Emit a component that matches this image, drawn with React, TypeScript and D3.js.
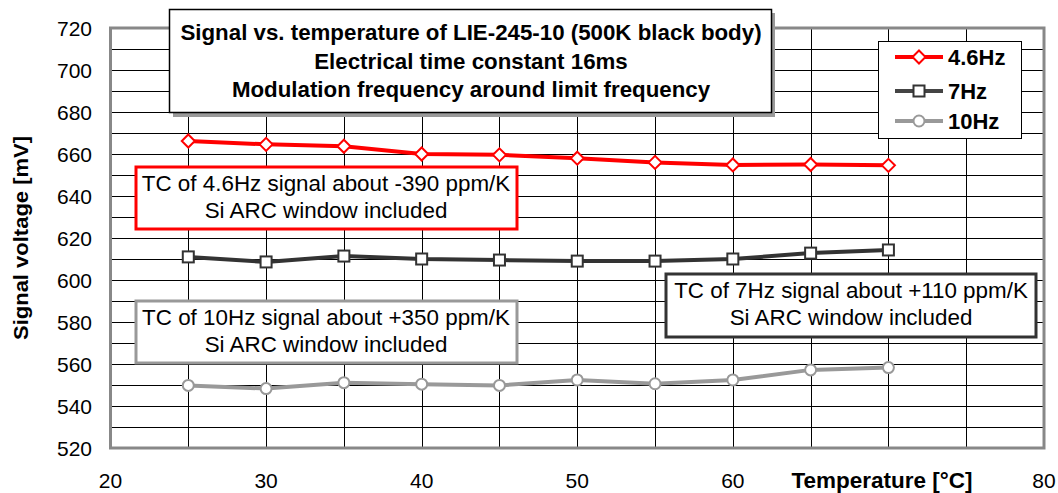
import React from "react";
import * as d3 from "d3";

const temps = [25, 30, 35, 40, 45, 50, 55, 60, 65, 70];
const s46 = [666.2, 664.6, 663.7, 660, 659.6, 658, 656, 654.8, 655, 654.6];
const s7 = [611, 608.6, 611.4, 610, 609.5, 609, 609, 610, 612.8, 614.3];
const s10 = [549.8, 548.3, 551.1, 550.4, 549.8, 552.4, 550.6, 552.4, 557.2, 558.3];
const xTicks = [20, 30, 40, 50, 60, 80];
const yTicks = [520, 540, 560, 580, 600, 620, 640, 660, 680, 700, 720];
const titleLines = [
  "Signal vs. temperature of LIE-245-10 (500K black body)",
  "Electrical time constant 16ms",
  "Modulation frequency around limit frequency",
];
const legendNames = ["4.6Hz", "7Hz", "10Hz"];

const W = 1058, H = 493;
const x = d3.scaleLinear().domain([20, 80]).range([110.5, 1044]);
const y = d3.scaleLinear().domain([520, 720]).range([448, 28]);
const FONT = "'Liberation Sans', Arial, sans-serif";

const line = d3.line<number>().x((_, i) => x(temps[i])).y((d) => y(d));

function Diamond({ cx, cy }: { cx: number; cy: number }) {
  const r = 6.5;
  return <path d={`M${cx},${cy - r}L${cx + r},${cy}L${cx},${cy + r}L${cx - r},${cy}Z`} fill="#fff" stroke="#ff0000" strokeWidth={2} />;
}
function Square({ cx, cy }: { cx: number; cy: number }) {
  const r = 5.5;
  return <rect x={cx - r} y={cy - r} width={2 * r} height={2 * r} fill="#fff" stroke="#333" strokeWidth={2} />;
}
function Circle({ cx, cy }: { cx: number; cy: number }) {
  return <circle cx={cx} cy={cy} r={5.5} fill="#fff" stroke="#999" strokeWidth={2} />;
}

function Box({ x0, y0, w, h, stroke, lines, cx }: any) {
  return (
    <g>
      <rect x={x0} y={y0} width={w} height={h} fill="#fff" stroke={stroke} strokeWidth={3} />
      {lines.map((t: string, i: number) => (
        <text key={i} x={cx} y={y0 + 24 + i * 27} textAnchor="middle" fontSize={22.4} fontFamily={FONT} fill="#000">
          {t}
        </text>
      ))}
    </g>
  );
}

export default function App() {
  const vLines = d3.range(25, 80, 5);
  const hLines = d3.range(530, 720, 10);
  return (
    <svg width={W} height={H} style={{ position: "absolute", left: 0, top: 0, background: "#fff" }}>
      <rect width={W} height={H} fill="#fff" />
      {hLines.map((v) => (
        <line key={"h" + v} x1={x(20)} x2={x(80)} y1={Math.round(y(v)) + 0.5} y2={Math.round(y(v)) + 0.5} stroke="#000" strokeWidth={1} />
      ))}
      {vLines.map((v) => (
        <line key={"v" + v} x1={Math.round(x(v)) + 0.5} x2={Math.round(x(v)) + 0.5} y1={y(720)} y2={y(520)} stroke="#000" strokeWidth={1} />
      ))}
      <rect x={x(20)} y={y(720)} width={x(80) - x(20)} height={y(520) - y(720)} fill="none" stroke="#888" strokeWidth={3} />
      {yTicks.map((v) => (
        <text key={"yt" + v} x={92} y={y(v) + 8} textAnchor="end" fontSize={21} fontFamily={FONT} fill="#000">
          {v}
        </text>
      ))}
      {xTicks.map((v) => (
        <text key={"xt" + v} x={x(v)} y={488} textAnchor="middle" fontSize={21} fontFamily={FONT} fill="#000">
          {v}
        </text>
      ))}
      <text x={882} y={488} textAnchor="middle" fontSize={22.5} fontWeight="bold" fontFamily={FONT}>
        Temperature [°C]
      </text>
      <text transform="translate(28,238) rotate(-90)" textAnchor="middle" fontSize={20} fontWeight="bold" fontFamily={FONT} textLength={204} lengthAdjust="spacingAndGlyphs">
        Signal voltage [mV]
      </text>

      <path d={line(s10) || ""} fill="none" stroke="#999" strokeWidth={4} />
      <path d={line(s7) || ""} fill="none" stroke="#333" strokeWidth={4} />
      <path d={line(s46) || ""} fill="none" stroke="#ff0000" strokeWidth={4} />
      {s10.map((v, i) => <Circle key={"c" + i} cx={x(temps[i])} cy={y(v)} />)}
      {s7.map((v, i) => <Square key={"s" + i} cx={x(temps[i])} cy={y(v)} />)}
      {s46.map((v, i) => <Diamond key={"d" + i} cx={x(temps[i])} cy={y(v)} />)}

      <Box x0={136} y0={167} w={381} h={62} stroke="#ff0000" cx={326} lines={["TC of 4.6Hz signal about -390 ppm/K", "Si ARC window included"]} />
      <Box x0={666} y0={274} w={370} h={63} stroke="#333" cx={851} lines={["TC of 7Hz signal about +110 ppm/K", "Si ARC window included"]} />
      <Box x0={136} y0={301} w={381} h={62} stroke="#999" cx={326} lines={["TC of 10Hz signal about +350 ppm/K", "Si ARC window included"]} />

      <rect x={173} y={13} width={602} height={104} fill="#999" />
      <rect x={169.5} y={9.5} width={602} height={103} fill="#fff" stroke="#000" strokeWidth={1.5} />
      {titleLines.map((t, i) => (
        <text key={"t" + i} x={471} y={40 + i * 28.5} textAnchor="middle" fontSize={22.3} fontWeight="bold" fontFamily={FONT}>
          {t}
        </text>
      ))}

      <rect x={878.5} y={41.5} width={143} height={97} fill="#fff" stroke="#000" strokeWidth={1} />
      {legendNames.map((n, i) => {
        const ly = [57, 91, 121][i];
        const color = ["#ff0000", "#444", "#999"][i];
        return (
          <g key={"l" + i}>
            <line x1={895} x2={943} y1={ly} y2={ly} stroke={color} strokeWidth={4} />
            {i === 0 && <Diamond cx={919} cy={ly} />}
            {i === 1 && <Square cx={919} cy={ly} />}
            {i === 2 && <Circle cx={919} cy={ly} />}
            <text x={948} y={ly + 8} fontSize={22} fontWeight="bold" fontFamily={FONT}>
              {n}
            </text>
          </g>
        );
      })}
    </svg>
  );
}
